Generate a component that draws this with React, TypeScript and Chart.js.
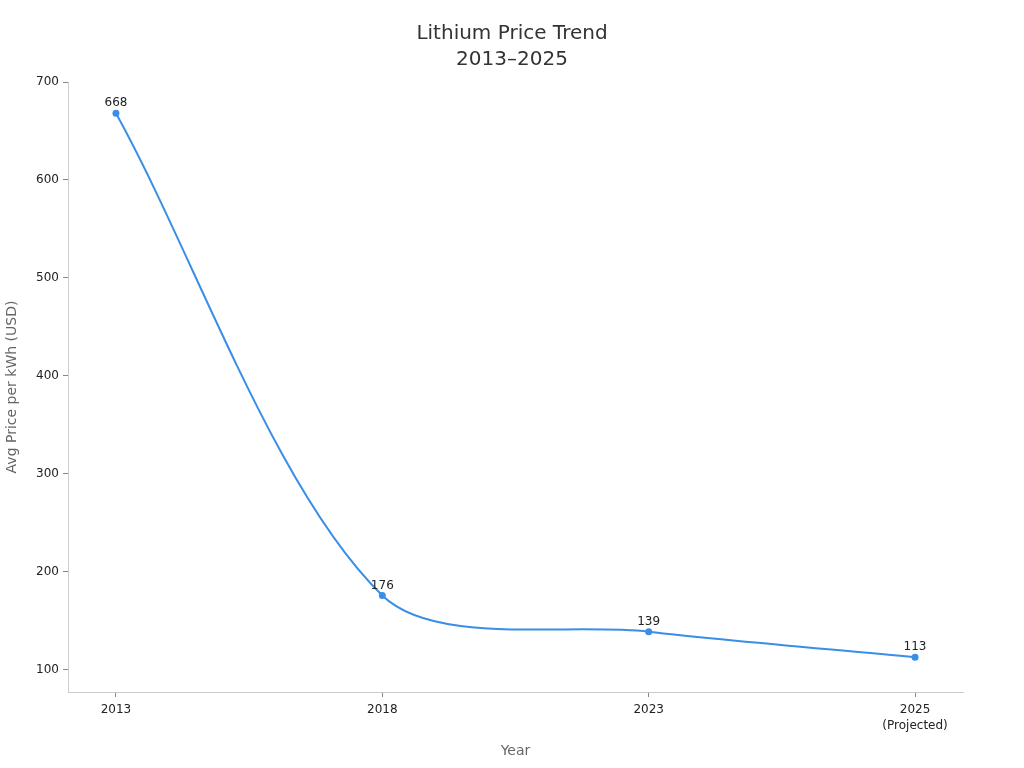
import Chart from 'chart.js/auto'
import { useEffect, useRef } from 'react'

const years = ['2013', '2018', '2023', '2025']
const yearNotes = ['', '', '', '(Projected)']
const prices = [668, 176, 139, 113]
const yTicks = [100, 200, 300, 400, 500, 600, 700]
const titleLines = ['Lithium Price Trend', '2013–2025']

const pointLabels = {
  id: 'pointLabels',
  afterDatasetsDraw(chart: Chart) {
    const ctx = chart.ctx
    const meta = chart.getDatasetMeta(0)
    ctx.save()
    ctx.font = '12px "DejaVu Sans"'
    ctx.fillStyle = '#222'
    ctx.textAlign = 'center'
    ctx.textBaseline = 'bottom'
    meta.data.forEach((pt, i) => {
      ctx.fillText(String(prices[i]), pt.x, pt.y - 4)
    })
    ctx.restore()
  },
}

// title centred on the whole canvas, not on the padded box
const pageTitle = {
  id: 'pageTitle',
  afterDraw(chart: Chart) {
    const ctx = chart.ctx
    ctx.save()
    ctx.font = '20px "DejaVu Sans"'
    ctx.fillStyle = '#333'
    ctx.textAlign = 'center'
    ctx.textBaseline = 'middle'
    titleLines.forEach((t, i) => {
      ctx.fillText(t, chart.width / 2, 34 + i * 26)
    })
    ctx.restore()
  },
}

const App = () => {
  const canvasRef = useRef<HTMLCanvasElement>(null)
  const chartRef = useRef<Chart | null>(null)

  useEffect(() => {
    document.body.style.margin = '0'
    if (canvasRef.current) {
      chartRef.current = new Chart(canvasRef.current, {
        type: 'line',
        data: {
          datasets: [
            {
              label: 'Avg Price',
              data: prices.map((p, i) => ({ x: i, y: p })),
              borderColor: '#3a8ee6',
              backgroundColor: '#3a8ee6',
              borderWidth: 2,
              pointRadius: 2.5,
              tension: 0.3,
            },
          ],
        },
        options: {
          animation: false,
          responsive: true,
          maintainAspectRatio: false,
          layout: { padding: { top: 82, right: 61, bottom: 0, left: 0 } },
          scales: {
            x: {
              type: 'linear',
              min: -0.18,
              max: 3.18,
              afterBuildTicks: (scale: any) => {
                scale.ticks = years.map((_, i) => ({ value: i }))
              },
              afterFit: (scale: any) => {
                scale.height = 76
              },
              ticks: {
                color: '#222',
                font: { size: 12, family: 'DejaVu Sans', lineHeight: 1.3 },
                padding: 5,
                callback: (v: any) => {
                  const i = Number(v)
                  return yearNotes[i] ? [years[i], yearNotes[i]] : years[i]
                },
              },
              grid: { drawOnChartArea: false, color: '#888', tickLength: 5 },
              border: { color: '#ccc' },
              title: {
                display: true,
                text: 'Year',
                color: '#666',
                font: { size: 14, family: 'DejaVu Sans' },
                padding: { top: 6, bottom: 8 },
              },
            },
            y: {
              min: 77.5,
              max: 700,
              afterBuildTicks: (scale: any) => {
                scale.ticks = yTicks.map((v) => ({ value: v }))
              },
              afterFit: (scale: any) => {
                scale.width = 68
              },
              ticks: {
                color: '#222',
                font: { size: 12, family: 'DejaVu Sans' },
                padding: 4,
              },
              grid: { drawOnChartArea: false, color: '#888', tickLength: 5 },
              border: { color: '#ccc' },
              title: {
                display: true,
                text: 'Avg Price per kWh (USD)',
                color: '#666',
                font: { size: 14, family: 'DejaVu Sans' },
                padding: { top: 4, bottom: 4 },
              },
            },
          },
          plugins: {
            legend: { display: false },
            tooltip: { enabled: false },
            title: { display: false },
          },
        },
        plugins: [pointLabels, pageTitle],
      })
    }
    return () => {
      if (chartRef.current) {
        chartRef.current.destroy()
      }
    }
  }, [])

  return (
    <div style={{ position: 'absolute', left: 0, top: 0, width: 1024, height: 768, background: '#fff' }}>
      <canvas ref={canvasRef}></canvas>
    </div>
  )
}

export default App
